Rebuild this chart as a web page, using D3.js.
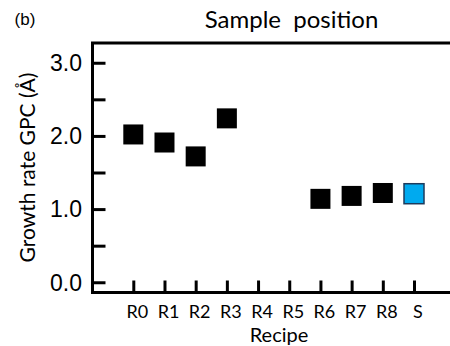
<!DOCTYPE html>
<html><head><meta charset="utf-8">
<script src="https://cdn.jsdelivr.net/npm/d3@7"></script>
<style>body{margin:0;background:#fff}svg{display:block}</style>
</head><body>
<script>
const categories = ["R0","R1","R2","R3","R4","R5","R6","R7","R8","S"];
const pointCats = ["R0","R1","R2","R3","R6","R7","R8","S"];
const pointValues = [2.02, 1.91, 1.72, 2.24, 1.14, 1.18, 1.22, 1.21];
const pointFill = ["#000","#000","#000","#000","#000","#000","#000","#00aaef"];
const yTickValues = [0, 1, 2, 3];
const yMinorTicks = [0.5, 1.5, 2.5];
const yTickLabels = ["0.0","1.0","2.0","3.0"];

(function () {
const W = 450, H = 346;
const svg = d3.select("body").append("svg").attr("width", W).attr("height", H);

const mLeft = 92.5, mRight = 470, mTop = 43, mBottom = 292.5;
const y = d3.scaleLinear().domain([-0.14, 3.27]).range([mBottom, mTop]);
const x = d3.scaleLinear().domain([0, categories.length - 1]).range([133.3, 414]);
const xi = c => x(categories.indexOf(c));

// frame
svg.append("path")
  .attr("d", `M${mRight},${mTop}H${mLeft}V${mBottom}H${mRight}`)
  .attr("fill", "none").attr("stroke", "#000").attr("stroke-width", 3);

// y axis ticks (inward)
const yAxis = d3.axisRight(y).tickValues(yTickValues.concat(yMinorTicks)).tickSize(13)
  .tickFormat("");
const gy = svg.append("g").attr("transform", `translate(${mLeft},0)`).call(yAxis);
gy.select(".domain").remove();
gy.selectAll("line").attr("stroke-width", 3);

svg.append("g").selectAll("text").data(yTickValues).join("text")
  .attr("x", 82).attr("y", d => y(d)).attr("dy", "0.36em")
  .attr("text-anchor", "end")
  .attr("font-family", "Liberation Sans, Arial, sans-serif").attr("font-size", 23)
  .text((d, i) => yTickLabels[i]);

// x axis ticks (inward)
const xAxis = d3.axisTop(x).tickValues(d3.range(categories.length)).tickSize(12).tickFormat("");
const gx = svg.append("g").attr("transform", `translate(0,${mBottom})`).call(xAxis);
gx.select(".domain").remove();
gx.selectAll("line").attr("stroke-width", 3);

svg.append("g").selectAll("text").data(categories).join("text")
  .attr("x", (d, i) => x(i) + 4).attr("y", 317.5)
  .attr("text-anchor", "middle")
  .attr("font-family", "Lato, sans-serif").attr("font-size", 18)
  .text(d => d);

// points
const s = 20;
svg.append("g").selectAll("rect").data(pointCats).join("rect")
  .attr("x", d => xi(d) - s / 2)
  .attr("y", (d, i) => y(pointValues[i]) - s / 2)
  .attr("width", s).attr("height", s)
  .attr("fill", (d, i) => pointFill[i])
  .attr("stroke", (d, i) => pointFill[i] === "#000" ? "none" : "#1d3b5c")
  .attr("stroke-width", 1.5);

// titles
svg.append("text").attr("x", 291.5).attr("y", 28).attr("text-anchor", "middle")
  .attr("font-family", "Lato, sans-serif").attr("font-size", 24)
  .attr("xml:space", "preserve").style("white-space", "pre")
  .text("Sample  position");

svg.append("text").attr("x", 25).attr("y", 24.5).attr("text-anchor", "middle")
  .attr("font-family", "Liberation Sans, Arial, sans-serif").attr("font-size", 17)
  .text("(b)");

svg.append("text").attr("x", 279).attr("y", 341.5).attr("text-anchor", "middle")
  .attr("font-family", "Lato, sans-serif").attr("font-size", 20)
  .text("Recipe");

svg.append("text").attr("transform", "translate(35,167.5) rotate(-90)")
  .attr("text-anchor", "middle")
  .attr("font-family", "Lato, sans-serif").attr("font-size", 21)
  .text("Growth rate GPC (Å)");
})();
</script>
</body></html>
